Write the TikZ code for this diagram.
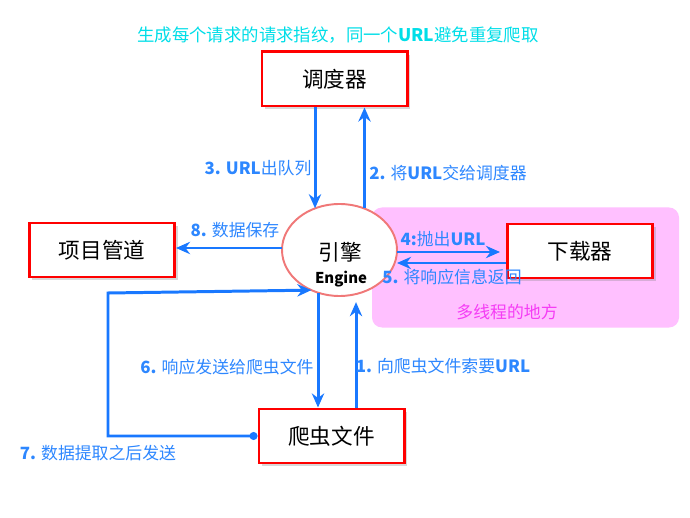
\documentclass[tikz,border=0pt]{standalone}
\usepackage{fontspec}
\usepackage{tikz}
\usetikzlibrary{shapes, arrows.meta, positioning, calc, shadows}

\newfontfamily\cjk{Noto Sans CJK SC}
\newcommand{\bnum}[1]{{\bfseries #1}}

\definecolor{flowblue}{RGB}{25,120,255}
\definecolor{tagblue}{RGB}{45,135,255}
\definecolor{boxred}{RGB}{255,0,0}
\definecolor{zonepink}{RGB}{255,192,255}
\definecolor{titlecyan}{RGB}{0,222,232}
\definecolor{zonetext}{RGB}{245,60,245}
\definecolor{engring}{RGB}{240,120,120}

\begin{document}
\begin{tikzpicture}[
    x=0.2mm, y=-0.2mm,
    box/.style={rectangle, draw=boxred, line width=1.7pt, fill=white, minimum width=2.9cm, minimum height=1.08cm, align=center, font=\cjk\fontsize{12.3}{14}\selectfont, drop shadow={opacity=0.3, shadow xshift=0.6mm, shadow yshift=-0.6mm}},
    engine/.style={ellipse, draw=engring, line width=1.1pt, fill=white, minimum width=2.3cm, minimum height=1.84cm, inner sep=0pt, outer sep=0pt},
    zone/.style={rectangle, rounded corners=2mm, fill=zonepink, minimum width=6.14cm, minimum height=2.4cm},
    tag/.style={font=\cjk\fontsize{9.6}{11}\selectfont, text=tagblue, inner sep=1pt},
    flow/.style={-{Stealth[length=8pt, width=7pt]}, draw=flowblue, line width=1.7pt}
]
\fill[white] (0,0) rectangle (690,518);
\useasboundingbox (0,0) rectangle (690,518);

% Multi-thread zone
\node[zone] (multi) at (525.5,267.5) {};
\node[font=\cjk\fontsize{9.6}{11}\selectfont, text=zonetext] (multitxt) at (507,312) {多线程的地方};

% Boxes
\node[box] (sched) at (334.5,79) {调度器};
\node[box] (pipe) at (102,250) {项目管道};
\node[box] (down) at (580,251) {下载器};
\node[box] (spider) at (331.5,436) {爬虫文件};

% Engine
\node[engine] (eng) at (339.5,250) {};
\node[font=\cjk\fontsize{12.3}{14}\selectfont] (engzh) at (340,252) {引擎};
\node[font=\cjk\bfseries\fontsize{8.5}{10}\selectfont] (engen) at (341,279) {Engine};

% Title
\node[font=\cjk\fontsize{9.9}{12}\selectfont, text=titlecyan] (title) at (338,35) {生成每个请求的请求指纹，同一个\bnum{URL}避免重复爬取};

% Helper points
\coordinate (q3) at ($(sched.south)+(-19.5,0)$);
\coordinate (q2) at ($(sched.south)+(30,0)$);
\coordinate (q6) at ($(spider.north)+(-13.5,0)$);
\coordinate (q1) at ($(spider.north)+(24.5,0)$);
\coordinate (loop) at (108,293);

% Connections
\draw[flow] (q3) -- (q3 |- eng.120);
\draw[flow] (q2 |- eng.60) -- (q2);
\draw[flow] ([yshift=0.4mm]eng.west) -- ([yshift=0.4mm]eng.west -| pipe.east);
\draw[flow, shorten >=1.2mm] ([yshift=-0.4mm]eng.east) -- ([yshift=-0.4mm]eng.east -| down.west);
\draw[flow] ([yshift=-2.4mm]down.west) -- ([yshift=-2.4mm]down.west -| eng.east);
\draw[flow] (q6 |- eng.-117) -- (q6);
\draw[flow, shorten >=1.6mm] (q1) -- (q1 |- eng.-70);
\draw[flow, {Circle[length=4.5pt]}-{Stealth[length=8pt, width=7pt]}] (spider.west) -| (loop) -- (eng.-125);

% Labels
\node[tag] (t3) at (258,168) {\bnum{3. URL}出队列};
\node[tag] (t2) at (448,173) {\bnum{2.} 将\bnum{URL}交给调度器};
\node[tag] (t8) at (235,230) {\bnum{8.} 数据保存};
\node[tag] (t4) at (443,239) {\bnum{4:}抛出\bnum{URL}};
\node[tag] (t5) at (452,277) {\bnum{5.} 将响应信息返回};
\node[tag] (t6) at (227,367) {\bnum{6.} 响应发送给爬虫文件};
\node[tag] (t1) at (443,366) {\bnum{1.} 向爬虫文件索要\bnum{URL}};
\node[tag] (t7) at (98,453) {\bnum{7.} 数据提取之后发送};

\end{tikzpicture}
\end{document}
